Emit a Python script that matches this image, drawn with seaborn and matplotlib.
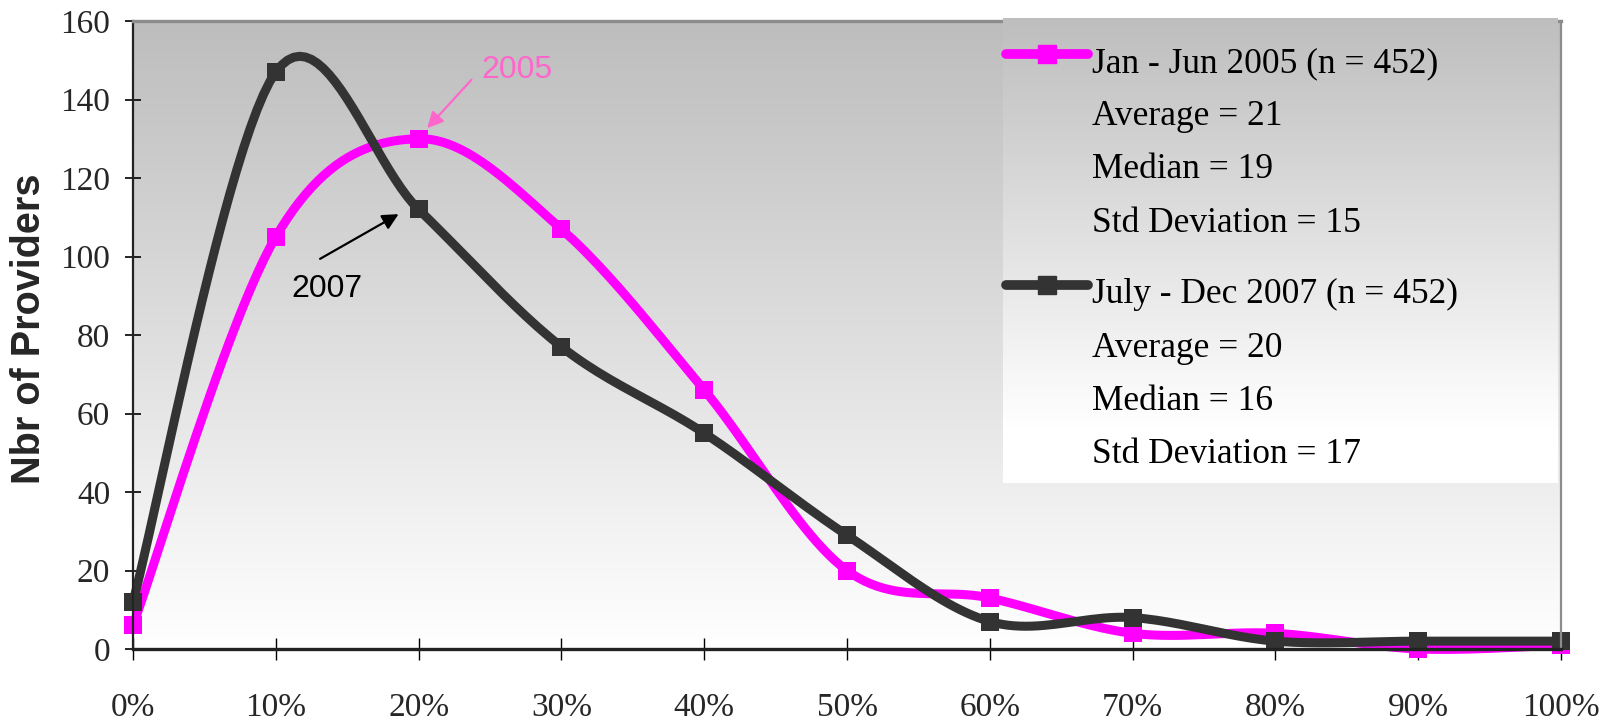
import numpy as np
import pandas as pd
import matplotlib
matplotlib.use("Agg")
import matplotlib.pyplot as plt
import seaborn as sns
from matplotlib.lines import Line2D

# ---- data -------------------------------------------------------------
pct = [0, 10, 20, 30, 40, 50, 60, 70, 80, 90, 100]
providers_2005 = [6, 105, 130, 107, 66, 20, 13, 4, 4, 0, 1]
providers_2007 = [12, 147, 112, 77, 55, 29, 7, 8, 2, 2, 2]

series_names = ["Jan - Jun 2005 (n = 452)", "July - Dec 2007 (n = 452)"]
stats_2005 = ["Average = 21", "Median = 19", "Std Deviation = 15"]
stats_2007 = ["Average = 20", "Median = 16", "Std Deviation = 17"]

y_ticks = [0, 20, 40, 60, 80, 100, 120, 140, 160]
x_tick_labels = [f"{p}%" for p in pct]

series_colors = {series_names[0]: "#FF00FF", series_names[1]: "#333333"}


def smooth_curve(xs, ys, steps=24):
    """Cubic Bezier smoothing that passes through every point."""
    pts = np.column_stack([xs, ys]).astype(float)
    padded = np.vstack([pts[0], pts, pts[-1]])
    t = np.linspace(0, 1, steps + 1)[1:, None]
    out = [pts[:1]]
    for i in range(len(pts) - 1):
        p0, p3 = padded[i + 1], padded[i + 2]
        c1 = p0 + (padded[i + 2] - padded[i]) / 6.0
        c2 = p3 - (padded[i + 3] - padded[i + 1]) / 6.0
        seg = ((1 - t) ** 3) * p0 + 3 * ((1 - t) ** 2) * t * c1 \
            + 3 * (1 - t) * (t ** 2) * c2 + (t ** 3) * p3
        out.append(seg)
    return np.vstack(out)


points = pd.concat([
    pd.DataFrame({"pct": pct, "providers": providers_2005, "series": series_names[0]}),
    pd.DataFrame({"pct": pct, "providers": providers_2007, "series": series_names[1]}),
], ignore_index=True)

curves = []
for name, grp in points.groupby("series", sort=False):
    c = smooth_curve(grp["pct"].values, grp["providers"].values)
    curves.append(pd.DataFrame({"pct": c[:, 0], "providers": c[:, 1], "series": name}))
curves = pd.concat(curves, ignore_index=True)

# ---- figure -----------------------------------------------------------
sns.set_theme(style="white")
plt.rcParams["font.family"] = ["Liberation Serif", "DejaVu Serif"]

W, H = 1610, 721
fig = plt.figure(figsize=(W / 100, H / 100), dpi=100)
fig.patch.set_facecolor("white")
ax = fig.add_axes([133 / W, 1 - 649 / H, 1428 / W, 628 / H])

# plot-area gradient: grey at the top fading to white
top = 189 / 255
bg = np.linspace(top, 1.0, 256)[:, None, None] * np.ones((1, 1, 3))
ax.imshow(bg, extent=(0, 1, 0, 1), transform=ax.transAxes, aspect="auto",
          interpolation="bilinear", zorder=0)

# series: line first, then its square markers, 2007 on top
z = 2
for name in series_names:
    col = series_colors[name]
    sns.lineplot(data=curves[curves["series"] == name], x="pct", y="providers",
                 color=col, linewidth=6.5, sort=False, estimator=None,
                 legend=False, ax=ax, zorder=z, clip_on=False)
    sns.scatterplot(data=points[points["series"] == name], x="pct", y="providers",
                    color=col, marker="s", s=155, linewidth=0,
                    legend=False, ax=ax, zorder=z + 0.1, clip_on=False)
    z += 0.2

# annotations
ax.annotate("", xy=(20.6, 132.7), xytext=(23.7, 145),
            arrowprops=dict(arrowstyle="-|>", color="#FF66CC", lw=1.6,
                            mutation_scale=24, shrinkA=0, shrinkB=0), zorder=5)
ax.text(26.9, 147.5, "2005", color="#FF66CC", fontsize=23,
        family="Liberation Sans", ha="center", va="center", zorder=5)
ax.annotate("", xy=(18.6, 110.8), xytext=(13.1, 99.4),
            arrowprops=dict(arrowstyle="-|>", color="black", lw=1.6,
                            mutation_scale=24, shrinkA=0, shrinkB=0), zorder=5)
ax.text(13.6, 91.7, "2007", color="black", fontsize=23,
        family="Liberation Sans", ha="center", va="center", zorder=5)

# legend panel with its own gradient
lx0, lx1, ly0, ly1 = 0.609, 0.997, 0.264, 1.004
frac = np.linspace(0, 1, 256)
lg = np.clip(190 / 255 + (1 - 190 / 255) * frac / 0.88, 0, 1)[:, None, None] * np.ones((1, 1, 3))
ax.imshow(lg, extent=(lx0, lx1, ly0, ly1), transform=ax.transAxes, aspect="auto",
          interpolation="bilinear", zorder=3, clip_on=False)

handle_y = [0.947, 0.580]
for name, hy in zip(series_names, handle_y):
    ax.add_line(Line2D([0.611, 0.640, 0.669], [hy] * 3, transform=ax.transAxes,
                       color=series_colors[name], lw=7, marker="s", markersize=12.5,
                       markevery=[1], clip_on=False, zorder=4))

legend_lines = [series_names[0]] + stats_2005 + [series_names[1]] + stats_2007
baselines = [0.9188, 0.8344, 0.750, 0.664, 0.551, 0.465, 0.3806, 0.2962]
for s, b in zip(legend_lines, baselines):
    ax.text(0.6716, b, s, transform=ax.transAxes, ha="left", va="baseline",
            fontsize=25.5, color="black", zorder=5)

# axes, ticks, spines
ax.set_xlim(0, 100)
ax.set_ylim(0, 160)
ax.set_xticks(pct)
ax.set_xticklabels(x_tick_labels)
ax.set_yticks(y_ticks)
ax.set_xlabel("")
ax.tick_params(axis="y", direction="inout", length=12, width=1.2, pad=10.4,
               labelsize=24, color="black", left=True)
ax.tick_params(axis="x", direction="inout", length=16, width=1.0, pad=23,
               labelsize=24, color="black", bottom=True)

ax.set_ylabel("Nbr of Providers", family="Liberation Sans", fontweight="bold",
              fontsize=28.5)
ax.yaxis.set_label_coords(-0.0728, 0.51)
ax.yaxis.label.set_va("center")

for side, col, lw in [("left", "#222222", 1.6), ("bottom", "#222222", 2.4),
                      ("top", "#8c8c8c", 2.4), ("right", "#8c8c8c", 1.6)]:
    ax.spines[side].set_visible(True)
    ax.spines[side].set_color(col)
    ax.spines[side].set_linewidth(lw)

fig.savefig("out.png", dpi=100)
